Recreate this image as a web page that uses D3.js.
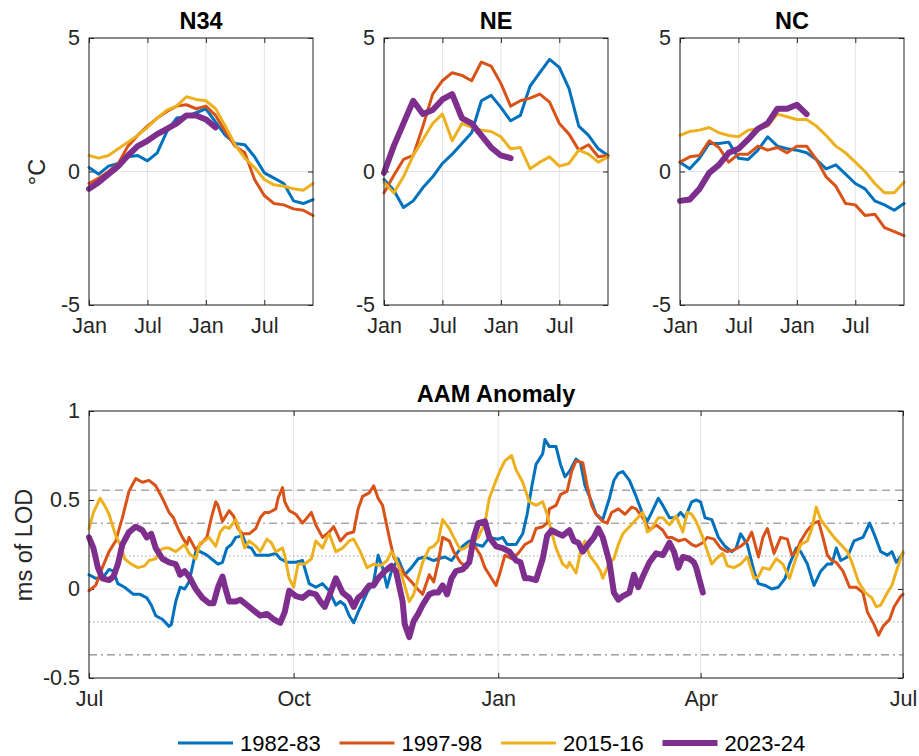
<!DOCTYPE html>
<html>
<head>
<meta charset="utf-8">
<script src="https://cdn.jsdelivr.net/npm/d3@7"></script>
<style>
  body { margin: 0; background: #fff; }
  svg text { font-family: "Liberation Sans", Arial, Helvetica, sans-serif; fill: #262626; }
</style>
</head>
<body>
<svg id="chart" width="919" height="756"></svg>
<script>
/* SST anomalies (top) and AAM anomaly (bottom) for four El Nino years */

// ---- data ----
const seasons = ["1982-83", "1997-98", "2015-16", "2023-24"];
const monthTicks = [0, 6, 12, 18];
const monthLabels = ["Jan", "Jul", "Jan", "Jul"];
const sstTicks = [-5, 0, 5];
const aamTicks = [-0.5, 0, 0.5, 1];
const aamTickLabels = ["-0.5", "0", "0.5", "1"];
const refValues = [0.555, 0.37, 0.185, -0.185, -0.37];

// monthly, Jan of year 1 .. Dec of year 2
const n34_8283 = [0.15, -0.1, 0.2, 0.3, 0.55, 0.6, 0.4, 0.7, 1.5, 2.0, 2.05, 2.2, 2.35, 1.85, 1.35, 1.05, 1.0, 0.55, -0.05, -0.25, -0.45, -1.1, -1.2, -1.05];
const n34_9798 = [-0.45, -0.25, 0.0, 0.3, 0.95, 1.35, 1.7, 2.0, 2.25, 2.45, 2.5, 2.35, 2.45, 2.1, 1.5, 0.95, 0.7, -0.3, -0.9, -1.2, -1.25, -1.4, -1.45, -1.65];
const n34_1516 = [0.6, 0.5, 0.6, 0.85, 1.1, 1.35, 1.65, 2.0, 2.3, 2.45, 2.8, 2.7, 2.65, 2.35, 1.7, 1.0, 0.5, 0.15, -0.3, -0.5, -0.55, -0.65, -0.7, -0.45];
const n34_2324 = [-0.65, -0.4, -0.1, 0.2, 0.6, 0.95, 1.15, 1.4, 1.6, 1.8, 2.1, 2.1, 1.95, 1.65];

const ne_8283 = [-0.3, -0.7, -1.35, -1.1, -0.6, -0.2, 0.3, 0.65, 1.05, 1.45, 2.65, 2.85, 2.4, 1.9, 2.1, 3.2, 3.7, 4.2, 3.9, 3.1, 1.7, 1.35, 0.85, 0.6];
const ne_9798 = [-0.8, -0.15, 0.45, 0.6, 1.7, 2.9, 3.4, 3.7, 3.6, 3.4, 4.1, 3.95, 3.3, 2.45, 2.65, 2.75, 2.9, 2.6, 1.8, 1.4, 0.8, 1.0, 0.55, 0.6];
const ne_1516 = [-0.4, -0.8, -0.2, 0.6, 1.2, 1.8, 2.15, 1.15, 1.8, 1.65, 1.55, 1.5, 1.3, 0.85, 0.9, 0.1, 0.35, 0.55, 0.2, 0.3, 0.8, 0.65, 0.35, 0.55];
const ne_2324 = [-0.05, 0.95, 1.8, 2.65, 2.15, 2.3, 2.7, 2.9, 2.0, 1.8, 1.35, 0.9, 0.6, 0.5];

const nc_8283 = [0.35, 0.1, 0.5, 1.05, 1.05, 1.1, 0.5, 0.45, 0.8, 1.3, 0.95, 0.85, 0.8, 0.7, 0.45, 0.1, 0.25, -0.1, -0.45, -0.65, -1.1, -1.25, -1.45, -1.2];
const nc_9798 = [0.35, 0.55, 0.6, 1.15, 0.9, 0.35, 0.65, 0.65, 0.95, 0.8, 0.9, 0.7, 0.95, 0.95, 0.45, -0.2, -0.55, -1.2, -1.25, -1.65, -1.6, -2.1, -2.25, -2.4];
const nc_1516 = [1.35, 1.5, 1.55, 1.65, 1.45, 1.35, 1.3, 1.55, 1.6, 1.7, 2.15, 2.05, 1.95, 1.95, 1.7, 1.35, 0.95, 0.7, 0.35, 0, -0.45, -0.8, -0.8, -0.4];
const nc_2324 = [-1.1, -1.05, -0.65, -0.05, 0.25, 0.7, 0.85, 1.2, 1.6, 1.8, 2.35, 2.35, 2.5, 2.15];

// [days after Jul 1, ms of LOD]
const aam_8283 = [[0,0.08],[3,0.06],[6,0.06],[9,0.11],[11,0.1],[13,0.03],[16,0.01],[20,-0.03],[23,-0.03],[26,-0.05],[28,-0.09],[30,-0.15],[33,-0.17],[36,-0.21],[37,-0.2],[39,-0.07],[41,0.01],[43,0.0],[45,0.04],[48,0.21],[50,0.21],[53,0.19],[56,0.16],[58,0.14],[60,0.15],[62,0.23],[64,0.25],[66,0.29],[69,0.3],[71,0.24],[73,0.23],[75,0.19],[78,0.19],[81,0.19],[84,0.2],[86,0.17],[89,0.15],[93,0.15],[96,0.16],[99,0.03],[102,0.01],[105,0.03],[108,-0.01],[111,-0.09],[113,-0.07],[115,-0.09],[117,-0.15],[119,-0.19],[121,-0.13],[125,-0.02],[128,0.04],[130,0.19],[132,0.12],[134,0.01],[136,0.1],[139,0.17],[142,0.08],[145,0.12],[148,0.17],[151,0.18],[155,0.16],[157,0.17],[160,0.18],[163,0.16],[166,0.21],[168,0.24],[171,0.27],[174,0.25],[177,0.24],[180,0.29],[184,0.28],[186,0.29],[188,0.25],[190,0.25],[192,0.25],[195,0.31],[197,0.42],[199,0.57],[201,0.7],[204,0.76],[205,0.84],[207,0.8],[210,0.8],[212,0.7],[214,0.63],[216,0.66],[219,0.73],[221,0.71],[223,0.58],[226,0.49],[228,0.42],[231,0.39],[234,0.51],[236,0.61],[238,0.65],[240,0.66],[243,0.61],[246,0.52],[249,0.42],[251,0.38],[253,0.43],[256,0.51],[258,0.47],[261,0.4],[264,0.4],[266,0.43],[268,0.4],[271,0.49],[273,0.5],[275,0.49],[277,0.4],[280,0.39],[283,0.29],[286,0.24],[289,0.21],[291,0.23],[293,0.31],[296,0.25],[299,0.1],[301,0.03],[304,0.02],[307,0.0],[310,0.01],[313,0.06],[315,0.14],[318,0.23],[320,0.21],[323,0.14],[326,0.02],[329,0.1],[332,0.14],[334,0.14],[336,0.23],[338,0.16],[341,0.18],[344,0.27],[348,0.29],[351,0.37],[353,0.31],[356,0.21],[359,0.19],[361,0.21],[363,0.15],[366,0.2]];
const aam_9798 = [[0,-0.01],[3,0.02],[6,0.12],[9,0.21],[12,0.27],[15,0.4],[18,0.55],[21,0.62],[24,0.6],[27,0.61],[30,0.58],[33,0.51],[36,0.43],[38,0.4],[40,0.34],[42,0.29],[44,0.25],[45,0.29],[48,0.22],[50,0.25],[53,0.29],[55,0.4],[57,0.49],[58,0.47],[60,0.38],[63,0.44],[65,0.41],[67,0.34],[69,0.31],[72,0.31],[75,0.34],[77,0.4],[79,0.43],[81,0.43],[84,0.45],[85,0.51],[87,0.57],[88,0.49],[90,0.44],[93,0.42],[96,0.37],[100,0.43],[102,0.36],[105,0.29],[108,0.32],[110,0.35],[113,0.27],[116,0.31],[119,0.32],[121,0.45],[123,0.52],[126,0.54],[128,0.58],[130,0.51],[132,0.47],[135,0.29],[137,0.18],[139,0.14],[142,0.08],[145,0.04],[147,0.01],[150,-0.03],[153,0.08],[155,0.04],[157,0.15],[159,0.29],[162,0.27],[164,0.21],[167,0.15],[170,0.12],[173,0.25],[176,0.19],[178,0.12],[180,0.08],[183,0.02],[185,0.1],[187,0.19],[190,0.17],[193,0.2],[196,0.25],[199,0.27],[201,0.34],[204,0.35],[206,0.37],[207,0.45],[210,0.47],[212,0.53],[215,0.55],[217,0.66],[219,0.72],[222,0.71],[224,0.58],[226,0.47],[228,0.42],[231,0.38],[233,0.37],[235,0.43],[238,0.45],[241,0.42],[244,0.46],[246,0.45],[249,0.4],[252,0.33],[255,0.36],[258,0.33],[260,0.29],[262,0.29],[265,0.27],[268,0.28],[271,0.25],[273,0.24],[276,0.26],[278,0.29],[281,0.28],[284,0.23],[287,0.21],[290,0.22],[293,0.24],[296,0.27],[298,0.32],[301,0.18],[303,0.29],[305,0.34],[308,0.2],[311,0.29],[314,0.28],[316,0.19],[318,0.21],[320,0.27],[323,0.33],[326,0.37],[328,0.38],[330,0.29],[332,0.19],[334,0.16],[336,0.15],[339,0.1],[342,0.01],[345,0.01],[348,-0.02],[350,-0.13],[353,-0.2],[355,-0.26],[357,-0.21],[360,-0.17],[362,-0.1],[365,-0.04],[366,-0.03]];
const aam_1516 = [[0,0.34],[2,0.43],[5,0.51],[7,0.47],[9,0.42],[12,0.3],[14,0.25],[16,0.17],[19,0.14],[22,0.12],[25,0.13],[27,0.16],[30,0.17],[32,0.22],[34,0.23],[36,0.23],[39,0.21],[41,0.23],[43,0.25],[45,0.2],[48,0.17],[50,0.26],[52,0.27],[54,0.29],[57,0.24],[59,0.32],[61,0.35],[63,0.34],[66,0.39],[68,0.32],[70,0.23],[72,0.27],[75,0.24],[77,0.21],[80,0.28],[82,0.26],[84,0.21],[87,0.23],[88,0.19],[90,0.06],[92,0.01],[94,0.14],[97,0.14],[100,0.17],[102,0.27],[105,0.23],[107,0.29],[108,0.31],[111,0.21],[114,0.23],[117,0.27],[119,0.28],[122,0.21],[125,0.12],[128,0.14],[131,0.13],[134,0.16],[136,0.21],[138,0.17],[141,0.06],[144,-0.07],[146,-0.03],[148,0.06],[150,0.15],[153,0.23],[155,0.24],[157,0.27],[159,0.39],[162,0.34],[164,0.29],[167,0.22],[169,0.23],[172,0.26],[175,0.29],[178,0.37],[180,0.51],[183,0.61],[185,0.67],[187,0.72],[190,0.75],[192,0.67],[195,0.6],[198,0.49],[201,0.47],[204,0.49],[206,0.42],[208,0.32],[210,0.23],[213,0.14],[215,0.12],[216,0.15],[219,0.09],[221,0.21],[223,0.27],[225,0.19],[228,0.14],[230,0.1],[231,0.06],[234,0.15],[236,0.17],[238,0.25],[240,0.31],[243,0.35],[246,0.39],[249,0.43],[251,0.32],[253,0.34],[256,0.4],[258,0.4],[261,0.36],[264,0.41],[267,0.32],[269,0.43],[271,0.42],[273,0.38],[276,0.29],[277,0.25],[280,0.14],[282,0.17],[285,0.2],[287,0.13],[290,0.12],[293,0.14],[296,0.18],[299,0.06],[301,0.07],[303,0.12],[306,0.11],[309,0.17],[312,0.14],[315,0.06],[317,0.14],[320,0.25],[323,0.27],[325,0.34],[327,0.46],[329,0.39],[332,0.34],[335,0.29],[338,0.25],[341,0.21],[343,0.15],[346,0.04],[349,-0.02],[352,-0.05],[354,-0.1],[356,-0.09],[359,-0.02],[361,0.02],[363,0.1],[366,0.21]];
const aam_2324 = [[0,0.29],[2,0.23],[4,0.12],[6,0.06],[9,0.05],[11,0.07],[13,0.14],[15,0.25],[18,0.32],[21,0.35],[24,0.33],[26,0.29],[28,0.31],[30,0.23],[33,0.17],[36,0.15],[39,0.14],[41,0.08],[43,0.1],[45,0.07],[48,0.0],[51,-0.05],[54,-0.08],[56,-0.08],[58,0.01],[60,0.07],[61,0.02],[63,-0.07],[66,-0.07],[68,-0.06],[71,-0.09],[74,-0.12],[77,-0.15],[80,-0.14],[83,-0.17],[86,-0.19],[88,-0.13],[90,-0.01],[93,-0.04],[96,-0.05],[99,-0.02],[102,-0.03],[104,-0.07],[106,-0.1],[108,-0.04],[111,0.06],[114,-0.02],[117,-0.05],[119,-0.1],[121,-0.05],[123,-0.03],[126,0.02],[128,0.02],[130,0.06],[133,0.1],[136,0.13],[138,0.1],[141,-0.07],[142,-0.2],[144,-0.27],[146,-0.18],[148,-0.14],[150,-0.09],[153,-0.03],[155,-0.02],[157,-0.02],[159,0.02],[161,-0.03],[163,0.06],[165,0.1],[168,0.11],[171,0.15],[173,0.29],[175,0.37],[178,0.38],[180,0.29],[183,0.24],[186,0.23],[189,0.21],[192,0.16],[194,0.15],[196,0.06],[198,0.06],[201,0.05],[204,0.17],[206,0.3],[208,0.33],[211,0.31],[213,0.3],[216,0.33],[218,0.27],[220,0.26],[222,0.21],[225,0.26],[227,0.29],[229,0.34],[231,0.29],[234,0.15],[236,-0.02],[238,-0.06],[240,-0.04],[243,-0.02],[245,0.08],[247,0.01],[249,0.07],[252,0.15],[255,0.2],[258,0.19],[261,0.26],[263,0.21],[265,0.12],[267,0.18],[270,0.17],[272,0.15],[273,0.12],[276,-0.02]];

// ---- drawing ----
const svg = d3.select("#chart");
const colors = ["#0072BD", "#D95319", "#EDB120", "#7E2F8E"];
const widths = [3, 3, 3, 6];
const axisColor = "#262626";
const gridColor = "#e3e3e3";
const tickFont = 21.5;

// MATLAB-style box: ticks pointing in, on all four sides
function drawAxes(x, y, xTicks, xFmt, yTicks, yFmt) {
  const [x0, x1] = x.range(), [y0, y1] = y.range();
  const g = svg.append("g");

  // grid
  g.selectAll(".gx").data(xTicks).join("line")
    .attr("x1", d => x(d)).attr("x2", d => x(d))
    .attr("y1", y0).attr("y2", y1)
    .attr("stroke", gridColor).attr("stroke-width", 1);
  g.selectAll(".gy").data(yTicks).join("line")
    .attr("x1", x0).attr("x2", x1)
    .attr("y1", d => y(d)).attr("y2", d => y(d))
    .attr("stroke", gridColor).attr("stroke-width", 1);

  const style = sel => {
    sel.attr("color", axisColor).attr("font-size", tickFont);
    sel.select(".domain").remove();
    sel.selectAll(".tick line").attr("stroke-width", 1);
  };

  g.append("g").attr("transform", `translate(0,${y0})`)
    .call(d3.axisBottom(x).tickValues(xTicks).tickFormat(xFmt).tickSize(-5).tickPadding(13))
    .call(style);
  g.append("g").attr("transform", `translate(0,${y1})`)
    .call(d3.axisTop(x).tickValues(xTicks).tickFormat("").tickSize(-5))
    .call(style);
  g.append("g").attr("transform", `translate(${x0},0)`)
    .call(d3.axisLeft(y).tickValues(yTicks).tickFormat(yFmt).tickSize(-5).tickPadding(9))
    .call(style);
  g.append("g").attr("transform", `translate(${x1},0)`)
    .call(d3.axisRight(y).tickValues(yTicks).tickFormat("").tickSize(-5))
    .call(style);

  return g;
}

function drawBox(x, y) {
  const [x0, x1] = x.range(), [y0, y1] = y.range();
  svg.append("rect")
    .attr("x", x0).attr("y", y1)
    .attr("width", x1 - x0).attr("height", y0 - y1)
    .attr("fill", "none").attr("stroke", axisColor).attr("stroke-width", 1);
}

function sstPanel(left, title, series) {
  const x = d3.scaleLinear().domain([0, 23]).range([left, left + 224]);
  const y = d3.scaleLinear().domain([-5, 5]).range([305, 38]);

  drawAxes(x, y, monthTicks, (d, i) => monthLabels[i], sstTicks, d => String(d));

  const line = d3.line().x((d, i) => x(i)).y(d => y(d));
  series.forEach((s, i) => {
    svg.append("path").datum(s)
      .attr("fill", "none")
      .attr("stroke", colors[i])
      .attr("stroke-width", widths[i])
      .attr("stroke-linejoin", "round")
      .attr("stroke-linecap", "round")
      .attr("d", line);
  });

  drawBox(x, y);

  svg.append("text")
    .attr("x", (x.range()[0] + x.range()[1]) / 2).attr("y", 29)
    .attr("text-anchor", "middle")
    .attr("font-size", 23.5).attr("font-weight", "bold")
    .style("fill", "#000")
    .text(title);
}

sstPanel(89, "N34", [n34_8283, n34_9798, n34_1516, n34_2324]);
sstPanel(384, "NE", [ne_8283, ne_9798, ne_1516, ne_2324]);
sstPanel(680, "NC", [nc_8283, nc_9798, nc_1516, nc_2324]);

svg.append("text")
  .attr("transform", "translate(45,172) rotate(-90)")
  .attr("text-anchor", "middle")
  .attr("font-size", 23.5)
  .text("°C");

// ---- AAM panel ----
const start = new Date(2023, 6, 1);
const end = new Date(2024, 6, 1);
const xa = d3.scaleTime().domain([start, end]).range([89, 903]);
const ya = d3.scaleLinear().domain([-0.5, 1]).range([678, 411]);
const quarterTicks = [new Date(2023, 6, 1), new Date(2023, 9, 1), new Date(2024, 0, 1), new Date(2024, 3, 1), new Date(2024, 6, 1)];

drawAxes(xa, ya, quarterTicks, d3.timeFormat("%b"), aamTicks, (d, i) => aamTickLabels[i]);

// reference levels
const refStyle = [
  { dash: "8,5", color: "#a8a8a8", w: 1.5 },
  { dash: "8,4,2,4", color: "#a8a8a8", w: 1.5 },
  { dash: "1.5,2.5", color: "#a0a0a0", w: 1 },
  { dash: "1.5,2.5", color: "#a0a0a0", w: 1 },
  { dash: "8,4,2,4", color: "#6e6e6e", w: 1 }
];
svg.selectAll(".ref").data(refValues).join("line")
  .attr("x1", 89).attr("x2", 903)
  .attr("y1", d => ya(d)).attr("y2", d => ya(d))
  .attr("stroke", (d, i) => refStyle[i].color)
  .attr("stroke-width", (d, i) => refStyle[i].w)
  .attr("stroke-dasharray", (d, i) => refStyle[i].dash);

const aamLine = d3.line()
  .x(d => xa(d3.timeDay.offset(start, d[0])))
  .y(d => ya(d[1]));

[aam_8283, aam_9798, aam_1516, aam_2324].forEach((s, i) => {
  svg.append("path").datum(s)
    .attr("fill", "none")
    .attr("stroke", colors[i])
    .attr("stroke-width", widths[i])
    .attr("stroke-linejoin", "round")
    .attr("stroke-linecap", "round")
    .attr("d", aamLine);
});

drawBox(xa, ya);

svg.append("text")
  .attr("x", 496).attr("y", 402)
  .attr("text-anchor", "middle")
  .attr("font-size", 23.5).attr("font-weight", "bold")
  .style("fill", "#000")
  .text("AAM Anomaly");

svg.append("text")
  .attr("transform", "translate(32,545) rotate(-90)")
  .attr("text-anchor", "middle")
  .attr("font-size", 23.5)
  .text("ms of LOD");

// ---- legend ----
const legend = svg.append("g").attr("transform", "translate(178,743)");
seasons.forEach((s, i) => {
  const g = legend.append("g").attr("transform", `translate(${i * 161.5},0)`);
  g.append("line")
    .attr("x1", 0).attr("x2", 55)
    .attr("stroke", colors[i]).attr("stroke-width", widths[i]);
  g.append("text")
    .attr("x", 62).attr("y", 8)
    .attr("font-size", 22)
    .style("fill", "#000")
    .text(s);
});
</script>
</body>
</html>
